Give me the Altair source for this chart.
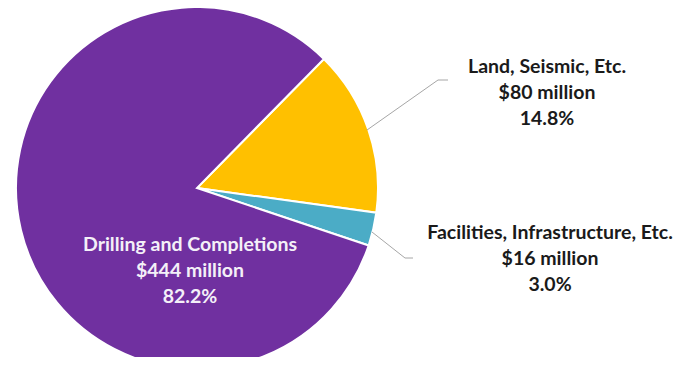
import altair as alt
import pandas as pd
import math

# ---- data ----
categories = ["Land, Seismic, Etc.", "Facilities, Infrastructure, Etc.", "Drilling and Completions"]
amounts = [80, 16, 444]            # $ million
amount_labels = ["$80 million", "$16 million", "$444 million"]
shares = ["14.8%", "3.0%", "82.2%"]
colors = ["#FFC000", "#4BACC6", "#7030A0"]
label_x = [539, 542, 182]
label_y = [59, 225, 237]
label_colors = ["#1A1A1A", "#1A1A1A", "#F4F0F8"]
leader_group = ["Land", "Land", "Land", "Fac", "Fac", "Fac"]
leader_x = [359, 430, 440, 364, 397, 405]
leader_y = [122, 72, 72, 224, 250, 250]

W, H = 670, 349
CX, CY, R = 189, 180, 181
START = 0.777

pie_df = pd.DataFrame({
    "category": categories,
    "amount": amounts,
    "order": list(range(len(categories))),
})
lab_df = pd.DataFrame({
    "lines": [[c, a, s] for c, a, s in zip(categories, amount_labels, shares)],
    "x": label_x,
    "y": label_y,
    "col": label_colors,
})
lead_df = pd.DataFrame({
    "g": leader_group,
    "x": leader_x,
    "y": leader_y,
    "i": list(range(len(leader_x))),
})

xs = alt.Scale(domain=[0, W], range=[0, W])
ys = alt.Scale(domain=[0, H], range=[0, H])

pie = alt.Chart(pie_df).mark_arc(radius=R, stroke="white", strokeWidth=2).encode(
    theta=alt.Theta("amount:Q", stack=True, scale=alt.Scale(range=[START, START + 2 * math.pi])),
    order=alt.Order("order:Q"),
    color=alt.Color("category:N", scale=alt.Scale(domain=categories, range=colors), legend=None),
    x=alt.value(CX),
    y=alt.value(CY),
)

leaders = alt.Chart(lead_df).mark_line(color="#A6A6A6", strokeWidth=1).encode(
    x=alt.X("x:Q", scale=xs, axis=None),
    y=alt.Y("y:Q", scale=ys, axis=None),
    detail="g:N",
    order="i:Q",
)

labels = alt.Chart(lab_df).mark_text(
    font="Lato", fontSize=19.5, fontWeight="bold", lineHeight=26,
    align="center", baseline="middle",
).encode(
    x=alt.X("x:Q", scale=xs, axis=None),
    y=alt.Y("y:Q", scale=ys, axis=None),
    text="lines",
    color=alt.Color("col:N", scale=None),
)

chart = alt.layer(pie, leaders, labels).resolve_scale(color="independent").properties(
    width=W, height=H, padding=0,
    autosize=alt.AutoSizeParams(type="none"),
).configure_view(stroke=None)

chart.save("out.html", embed_options={"renderer": "svg", "actions": False})
